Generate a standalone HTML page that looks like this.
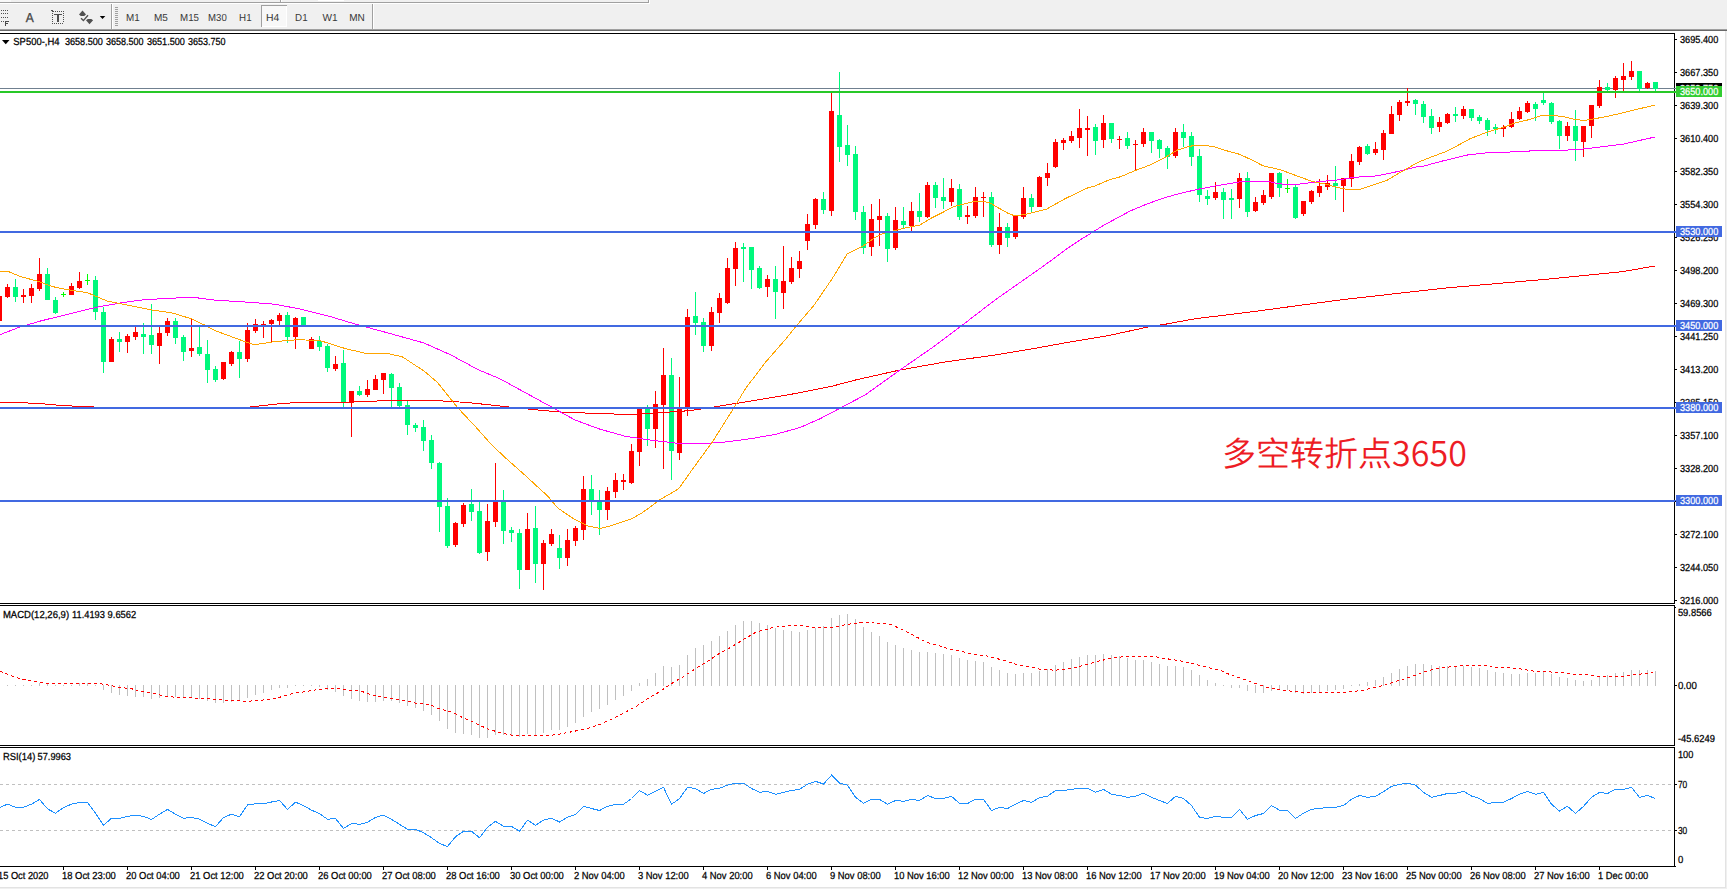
<!DOCTYPE html>
<html lang="zh"><head><meta charset="utf-8"><title>SP500 H4</title>
<style>html,body{margin:0;padding:0;background:#fff;overflow:hidden}svg{display:block}text{white-space:pre}</style></head>
<body>
<svg width="1727" height="889" viewBox="0 0 1727 889" font-family="'Liberation Sans', sans-serif" text-rendering="geometricPrecision">
<rect x="0" y="0" width="1727" height="889" fill="#fff"/>
<g id="toolbar" shape-rendering="crispEdges">
<rect x="0" y="0" width="1727" height="29" fill="#f0f0f0"/>
<rect x="0" y="0" width="11" height="2" fill="#f8f8f8"/>
<rect x="0" y="2" width="648" height="1" fill="#a0a0a0"/>
<rect x="0" y="3" width="649" height="1" fill="#ffffff"/>
<rect x="648" y="0" width="1" height="3" fill="#a0a0a0"/>
<rect x="649" y="0" width="1" height="4" fill="#ffffff"/>
<rect x="280" y="0" width="1" height="2" fill="#a0a0a0"/>
<rect x="281" y="0" width="1" height="2" fill="#ffffff"/>
<rect x="318" y="0" width="26" height="1" fill="#ffffff"/>
<rect x="0" y="29" width="1727" height="1" fill="#a0a0a0"/>
<rect x="0" y="30" width="1727" height="1" fill="#696969"/>
<rect x="111" y="4" width="1" height="25" fill="#a0a0a0"/>
<rect x="112" y="4" width="1" height="25" fill="#ffffff"/>
<rect x="372" y="4" width="1" height="25" fill="#a0a0a0"/>
<rect x="373" y="4" width="1" height="25" fill="#ffffff"/>
<rect x="115" y="7" width="3" height="1" fill="#a0a0a0"/>
<rect x="115" y="9" width="3" height="1" fill="#a0a0a0"/>
<rect x="115" y="11" width="3" height="1" fill="#a0a0a0"/>
<rect x="115" y="13" width="3" height="1" fill="#a0a0a0"/>
<rect x="115" y="15" width="3" height="1" fill="#a0a0a0"/>
<rect x="115" y="17" width="3" height="1" fill="#a0a0a0"/>
<rect x="115" y="19" width="3" height="1" fill="#a0a0a0"/>
<rect x="115" y="21" width="3" height="1" fill="#a0a0a0"/>
<rect x="115" y="23" width="3" height="1" fill="#a0a0a0"/>
<rect x="115" y="25" width="3" height="1" fill="#a0a0a0"/>
<rect x="261" y="5" width="26" height="22" fill="#f8f8f8"/>
<rect x="261" y="5" width="26" height="1" fill="#a0a0a0"/>
<rect x="261" y="5" width="1" height="22" fill="#a0a0a0"/>
<rect x="262" y="26" width="25" height="1" fill="#ffffff"/>
<rect x="286" y="6" width="1" height="21" fill="#ffffff"/>
</g>
<g id="icons" fill="#505050">
<rect x="1" y="10" width="1" height="1" fill="#505050"/>
<rect x="3" y="10" width="1" height="1" fill="#505050"/>
<rect x="5" y="10" width="1" height="1" fill="#505050"/>
<rect x="7" y="10" width="1" height="1" fill="#505050"/>
<rect x="1" y="13" width="1" height="1" fill="#505050"/>
<rect x="3" y="13" width="1" height="1" fill="#505050"/>
<rect x="5" y="13" width="1" height="1" fill="#505050"/>
<rect x="7" y="13" width="1" height="1" fill="#505050"/>
<rect x="1" y="17" width="1" height="1" fill="#505050"/>
<rect x="3" y="17" width="1" height="1" fill="#505050"/>
<rect x="5" y="17" width="1" height="1" fill="#505050"/>
<rect x="7" y="17" width="1" height="1" fill="#505050"/>
<rect x="1" y="21" width="1" height="1" fill="#505050"/>
<rect x="3" y="21" width="1" height="1" fill="#505050"/>
<rect x="5" y="21" width="1" height="5" fill="#484848"/>
<rect x="6" y="21" width="3" height="1" fill="#484848"/>
<rect x="6" y="23" width="2" height="1" fill="#484848"/>
<text x="25.7" y="22.2" font-size="13" fill="#484848" stroke="#484848" stroke-width="0.35" textLength="8" lengthAdjust="spacingAndGlyphs">A</text>
<rect x="55" y="11" width="1" height="1" fill="#505050"/>
<rect x="57" y="11" width="1" height="1" fill="#505050"/>
<rect x="59" y="11" width="1" height="1" fill="#505050"/>
<rect x="61" y="11" width="1" height="1" fill="#505050"/>
<rect x="63" y="11" width="1" height="1" fill="#505050"/>
<rect x="52" y="23" width="1" height="1" fill="#505050"/>
<rect x="54" y="23" width="1" height="1" fill="#505050"/>
<rect x="56" y="23" width="1" height="1" fill="#505050"/>
<rect x="58" y="23" width="1" height="1" fill="#505050"/>
<rect x="60" y="23" width="1" height="1" fill="#505050"/>
<rect x="62" y="23" width="1" height="1" fill="#505050"/>
<rect x="52" y="13" width="1" height="1" fill="#505050"/>
<rect x="63" y="13" width="1" height="1" fill="#505050"/>
<rect x="52" y="15" width="1" height="1" fill="#505050"/>
<rect x="63" y="15" width="1" height="1" fill="#505050"/>
<rect x="52" y="17" width="1" height="1" fill="#505050"/>
<rect x="63" y="17" width="1" height="1" fill="#505050"/>
<rect x="52" y="19" width="1" height="1" fill="#505050"/>
<rect x="63" y="19" width="1" height="1" fill="#505050"/>
<rect x="52" y="21" width="1" height="1" fill="#505050"/>
<rect x="63" y="21" width="1" height="1" fill="#505050"/>
<rect x="51" y="10" width="2" height="1" fill="#505050"/>
<rect x="52" y="11" width="2" height="1" fill="#505050"/>
<rect x="54" y="14" width="8" height="1" fill="#505050"/>
<rect x="57" y="15" width="2" height="7" fill="#505050"/>
<path d="M82.5 10.6 L86 14.4 L84.2 16 L80.8 16 L79 14.4 Z M89.5 24.2 L93.1 20.3 L91.3 19 L87.8 19 L86 20.3 Z" fill="#505050"/>
<path d="M81 18.3 L83.4 20.6 L88 15.2" fill="none" stroke="#505050" stroke-width="1.4"/>
<path d="M99.8 16 L105.3 16 L102.55 19 Z" fill="#000"/>
</g>
<text x="126.00" y="21" font-size="10.2" fill="#383838" stroke="#383838" stroke-width="0" textLength="13.70" lengthAdjust="spacingAndGlyphs">M1</text>
<text x="154.00" y="21" font-size="10.2" fill="#383838" stroke="#383838" stroke-width="0" textLength="13.90" lengthAdjust="spacingAndGlyphs">M5</text>
<text x="180.10" y="21" font-size="10.2" fill="#383838" stroke="#383838" stroke-width="0" textLength="18.90" lengthAdjust="spacingAndGlyphs">M15</text>
<text x="208.10" y="21" font-size="10.2" fill="#383838" stroke="#383838" stroke-width="0" textLength="18.70" lengthAdjust="spacingAndGlyphs">M30</text>
<text x="239.10" y="21" font-size="10.2" fill="#383838" stroke="#383838" stroke-width="0" textLength="12.50" lengthAdjust="spacingAndGlyphs">H1</text>
<text x="266.10" y="21" font-size="10.2" fill="#383838" stroke="#383838" stroke-width="0" textLength="13.30" lengthAdjust="spacingAndGlyphs">H4</text>
<text x="295.10" y="21" font-size="10.2" fill="#383838" stroke="#383838" stroke-width="0" textLength="12.50" lengthAdjust="spacingAndGlyphs">D1</text>
<text x="322.50" y="21" font-size="10.2" fill="#383838" stroke="#383838" stroke-width="0" textLength="15.10" lengthAdjust="spacingAndGlyphs">W1</text>
<text x="349.20" y="21" font-size="10.2" fill="#383838" stroke="#383838" stroke-width="0" textLength="15.60" lengthAdjust="spacingAndGlyphs">MN</text>
<g id="frame" shape-rendering="crispEdges">
<rect x="0" y="33" width="1675" height="1" fill="#000"/>
<rect x="1674" y="33" width="1" height="571" fill="#000"/>
<rect x="0" y="603" width="1675" height="1" fill="#000"/>
<rect x="0" y="605" width="1675" height="1" fill="#000"/>
<rect x="1674" y="605" width="1" height="141" fill="#000"/>
<rect x="0" y="745" width="1675" height="1" fill="#000"/>
<rect x="0" y="747" width="1675" height="1" fill="#000"/>
<rect x="1674" y="747" width="1" height="120" fill="#000"/>
<rect x="0" y="866" width="1676" height="1" fill="#000"/>
<rect x="1725" y="31" width="1" height="857" fill="#e3e3e3"/>
<rect x="1726" y="31" width="1" height="858" fill="#f0f0f0"/>
<rect x="0" y="887" width="1726" height="1" fill="#e3e3e3"/>
<rect x="0" y="888" width="1727" height="1" fill="#f0f0f0"/>
</g>
<g id="candles" shape-rendering="crispEdges">
<rect x="0" y="88" width="1676" height="1" fill="#708090"/>
<rect x="-1" y="294" width="1" height="29" fill="#FF0000"/>
<rect x="-3" y="296" width="5" height="25" fill="#FF0000"/>
<rect x="7" y="284" width="1" height="14" fill="#FF0000"/>
<rect x="5" y="287" width="5" height="10" fill="#FF0000"/>
<rect x="15" y="279" width="1" height="23" fill="#00F87C"/>
<rect x="13" y="287" width="5" height="10" fill="#00F87C"/>
<rect x="23" y="289" width="1" height="14" fill="#FF0000"/>
<rect x="21" y="295" width="5" height="2" fill="#FF0000"/>
<rect x="31" y="284" width="1" height="19" fill="#FF0000"/>
<rect x="29" y="288" width="5" height="8" fill="#FF0000"/>
<rect x="39" y="258" width="1" height="33" fill="#FF0000"/>
<rect x="37" y="274" width="5" height="15" fill="#FF0000"/>
<rect x="47" y="268" width="1" height="32" fill="#00F87C"/>
<rect x="45" y="274" width="5" height="26" fill="#00F87C"/>
<rect x="55" y="297" width="1" height="17" fill="#00F87C"/>
<rect x="53" y="300" width="5" height="13" fill="#00F87C"/>
<rect x="63" y="292" width="1" height="5" fill="#00FF00"/>
<rect x="61" y="294" width="5" height="1" fill="#00FF00"/>
<rect x="71" y="283" width="1" height="12" fill="#FF0000"/>
<rect x="69" y="286" width="5" height="9" fill="#FF0000"/>
<rect x="79" y="272" width="1" height="17" fill="#FF0000"/>
<rect x="77" y="281" width="5" height="7" fill="#FF0000"/>
<rect x="87" y="274" width="1" height="11" fill="#00FF00"/>
<rect x="85" y="280" width="5" height="1" fill="#00FF00"/>
<rect x="95" y="276" width="1" height="44" fill="#00F87C"/>
<rect x="93" y="280" width="5" height="32" fill="#00F87C"/>
<rect x="103" y="307" width="1" height="66" fill="#00F87C"/>
<rect x="101" y="312" width="5" height="50" fill="#00F87C"/>
<rect x="111" y="337" width="1" height="25" fill="#FF0000"/>
<rect x="109" y="339" width="5" height="23" fill="#FF0000"/>
<rect x="119" y="332" width="1" height="20" fill="#00F87C"/>
<rect x="117" y="339" width="5" height="3" fill="#00F87C"/>
<rect x="127" y="334" width="1" height="19" fill="#FF0000"/>
<rect x="125" y="336" width="5" height="6" fill="#FF0000"/>
<rect x="135" y="327" width="1" height="13" fill="#FF0000"/>
<rect x="133" y="332" width="5" height="5" fill="#FF0000"/>
<rect x="143" y="323" width="1" height="31" fill="#00F87C"/>
<rect x="141" y="334" width="5" height="3" fill="#00F87C"/>
<rect x="151" y="304" width="1" height="50" fill="#00F87C"/>
<rect x="149" y="335" width="5" height="10" fill="#00F87C"/>
<rect x="159" y="327" width="1" height="37" fill="#FF0000"/>
<rect x="157" y="333" width="5" height="13" fill="#FF0000"/>
<rect x="167" y="318" width="1" height="18" fill="#FF0000"/>
<rect x="165" y="321" width="5" height="12" fill="#FF0000"/>
<rect x="175" y="318" width="1" height="26" fill="#00F87C"/>
<rect x="173" y="321" width="5" height="17" fill="#00F87C"/>
<rect x="183" y="335" width="1" height="26" fill="#00F87C"/>
<rect x="181" y="337" width="5" height="15" fill="#00F87C"/>
<rect x="191" y="318" width="1" height="39" fill="#FF0000"/>
<rect x="189" y="348" width="5" height="3" fill="#FF0000"/>
<rect x="199" y="327" width="1" height="29" fill="#00F87C"/>
<rect x="197" y="347" width="5" height="7" fill="#00F87C"/>
<rect x="207" y="340" width="1" height="43" fill="#00F87C"/>
<rect x="205" y="354" width="5" height="16" fill="#00F87C"/>
<rect x="215" y="366" width="1" height="16" fill="#00F87C"/>
<rect x="213" y="369" width="5" height="11" fill="#00F87C"/>
<rect x="223" y="362" width="1" height="18" fill="#FF0000"/>
<rect x="221" y="362" width="5" height="17" fill="#FF0000"/>
<rect x="231" y="351" width="1" height="15" fill="#FF0000"/>
<rect x="229" y="352" width="5" height="12" fill="#FF0000"/>
<rect x="239" y="341" width="1" height="37" fill="#00F87C"/>
<rect x="237" y="352" width="5" height="7" fill="#00F87C"/>
<rect x="247" y="323" width="1" height="39" fill="#FF0000"/>
<rect x="245" y="330" width="5" height="29" fill="#FF0000"/>
<rect x="255" y="319" width="1" height="14" fill="#FF0000"/>
<rect x="253" y="324" width="5" height="7" fill="#FF0000"/>
<rect x="263" y="321" width="1" height="17" fill="#FF0000"/>
<rect x="261" y="324" width="5" height="2" fill="#FF0000"/>
<rect x="271" y="319" width="1" height="23" fill="#FF0000"/>
<rect x="269" y="320" width="5" height="4" fill="#FF0000"/>
<rect x="279" y="313" width="1" height="12" fill="#FF0000"/>
<rect x="277" y="315" width="5" height="6" fill="#FF0000"/>
<rect x="287" y="312" width="1" height="31" fill="#00F87C"/>
<rect x="285" y="315" width="5" height="22" fill="#00F87C"/>
<rect x="295" y="317" width="1" height="32" fill="#FF0000"/>
<rect x="293" y="318" width="5" height="19" fill="#FF0000"/>
<rect x="303" y="317" width="1" height="8" fill="#00F87C"/>
<rect x="301" y="317" width="5" height="8" fill="#00F87C"/>
<rect x="311" y="337" width="1" height="12" fill="#FF0000"/>
<rect x="309" y="339" width="5" height="10" fill="#FF0000"/>
<rect x="319" y="336" width="1" height="15" fill="#00F87C"/>
<rect x="317" y="341" width="5" height="6" fill="#00F87C"/>
<rect x="327" y="344" width="1" height="28" fill="#00F87C"/>
<rect x="325" y="346" width="5" height="22" fill="#00F87C"/>
<rect x="335" y="356" width="1" height="15" fill="#FF0000"/>
<rect x="333" y="364" width="5" height="5" fill="#FF0000"/>
<rect x="343" y="350" width="1" height="57" fill="#00F87C"/>
<rect x="341" y="363" width="5" height="39" fill="#00F87C"/>
<rect x="351" y="391" width="1" height="46" fill="#FF0000"/>
<rect x="349" y="391" width="5" height="12" fill="#FF0000"/>
<rect x="359" y="386" width="1" height="10" fill="#00F87C"/>
<rect x="357" y="391" width="5" height="4" fill="#00F87C"/>
<rect x="367" y="380" width="1" height="17" fill="#FF0000"/>
<rect x="365" y="389" width="5" height="6" fill="#FF0000"/>
<rect x="375" y="375" width="1" height="15" fill="#FF0000"/>
<rect x="373" y="379" width="5" height="11" fill="#FF0000"/>
<rect x="383" y="373" width="1" height="21" fill="#FF0000"/>
<rect x="381" y="373" width="5" height="7" fill="#FF0000"/>
<rect x="391" y="373" width="1" height="34" fill="#00F87C"/>
<rect x="389" y="374" width="5" height="14" fill="#00F87C"/>
<rect x="399" y="383" width="1" height="24" fill="#00F87C"/>
<rect x="397" y="387" width="5" height="19" fill="#00F87C"/>
<rect x="407" y="401" width="1" height="34" fill="#00F87C"/>
<rect x="405" y="405" width="5" height="20" fill="#00F87C"/>
<rect x="415" y="423" width="1" height="9" fill="#00F87C"/>
<rect x="413" y="425" width="5" height="3" fill="#00F87C"/>
<rect x="423" y="420" width="1" height="31" fill="#00F87C"/>
<rect x="421" y="427" width="5" height="14" fill="#00F87C"/>
<rect x="431" y="435" width="1" height="34" fill="#00F87C"/>
<rect x="429" y="440" width="5" height="23" fill="#00F87C"/>
<rect x="439" y="462" width="1" height="70" fill="#00F87C"/>
<rect x="437" y="463" width="5" height="44" fill="#00F87C"/>
<rect x="447" y="498" width="1" height="50" fill="#00F87C"/>
<rect x="445" y="506" width="5" height="40" fill="#00F87C"/>
<rect x="455" y="522" width="1" height="25" fill="#FF0000"/>
<rect x="453" y="523" width="5" height="22" fill="#FF0000"/>
<rect x="463" y="503" width="1" height="24" fill="#FF0000"/>
<rect x="461" y="505" width="5" height="19" fill="#FF0000"/>
<rect x="471" y="489" width="1" height="32" fill="#00F87C"/>
<rect x="469" y="504" width="5" height="8" fill="#00F87C"/>
<rect x="479" y="502" width="1" height="52" fill="#00F87C"/>
<rect x="477" y="511" width="5" height="42" fill="#00F87C"/>
<rect x="487" y="504" width="1" height="57" fill="#FF0000"/>
<rect x="485" y="521" width="5" height="31" fill="#FF0000"/>
<rect x="495" y="463" width="1" height="64" fill="#FF0000"/>
<rect x="493" y="502" width="5" height="20" fill="#FF0000"/>
<rect x="503" y="490" width="1" height="54" fill="#00F87C"/>
<rect x="501" y="502" width="5" height="29" fill="#00F87C"/>
<rect x="511" y="527" width="1" height="15" fill="#00F87C"/>
<rect x="509" y="530" width="5" height="3" fill="#00F87C"/>
<rect x="519" y="529" width="1" height="60" fill="#00F87C"/>
<rect x="517" y="533" width="5" height="37" fill="#00F87C"/>
<rect x="527" y="513" width="1" height="57" fill="#FF0000"/>
<rect x="525" y="529" width="5" height="41" fill="#FF0000"/>
<rect x="535" y="506" width="1" height="77" fill="#00F87C"/>
<rect x="533" y="528" width="5" height="36" fill="#00F87C"/>
<rect x="543" y="540" width="1" height="50" fill="#FF0000"/>
<rect x="541" y="543" width="5" height="21" fill="#FF0000"/>
<rect x="551" y="529" width="1" height="17" fill="#FF0000"/>
<rect x="549" y="534" width="5" height="10" fill="#FF0000"/>
<rect x="559" y="535" width="1" height="34" fill="#00F87C"/>
<rect x="557" y="548" width="5" height="10" fill="#00F87C"/>
<rect x="567" y="529" width="1" height="37" fill="#FF0000"/>
<rect x="565" y="540" width="5" height="18" fill="#FF0000"/>
<rect x="575" y="526" width="1" height="20" fill="#FF0000"/>
<rect x="573" y="528" width="5" height="13" fill="#FF0000"/>
<rect x="583" y="476" width="1" height="64" fill="#FF0000"/>
<rect x="581" y="489" width="5" height="41" fill="#FF0000"/>
<rect x="591" y="475" width="1" height="40" fill="#00F87C"/>
<rect x="589" y="489" width="5" height="11" fill="#00F87C"/>
<rect x="599" y="490" width="1" height="45" fill="#00F87C"/>
<rect x="597" y="500" width="5" height="10" fill="#00F87C"/>
<rect x="607" y="487" width="1" height="33" fill="#FF0000"/>
<rect x="605" y="491" width="5" height="19" fill="#FF0000"/>
<rect x="615" y="473" width="1" height="25" fill="#FF0000"/>
<rect x="613" y="480" width="5" height="12" fill="#FF0000"/>
<rect x="623" y="474" width="1" height="16" fill="#FF0000"/>
<rect x="621" y="480" width="5" height="2" fill="#FF0000"/>
<rect x="631" y="444" width="1" height="40" fill="#FF0000"/>
<rect x="629" y="451" width="5" height="32" fill="#FF0000"/>
<rect x="639" y="408" width="1" height="58" fill="#FF0000"/>
<rect x="637" y="408" width="5" height="44" fill="#FF0000"/>
<rect x="647" y="405" width="1" height="41" fill="#00F87C"/>
<rect x="645" y="408" width="5" height="21" fill="#00F87C"/>
<rect x="655" y="391" width="1" height="57" fill="#FF0000"/>
<rect x="653" y="404" width="5" height="25" fill="#FF0000"/>
<rect x="663" y="348" width="1" height="121" fill="#FF0000"/>
<rect x="661" y="375" width="5" height="30" fill="#FF0000"/>
<rect x="671" y="358" width="1" height="122" fill="#00F87C"/>
<rect x="669" y="375" width="5" height="76" fill="#00F87C"/>
<rect x="679" y="377" width="1" height="83" fill="#FF0000"/>
<rect x="677" y="409" width="5" height="44" fill="#FF0000"/>
<rect x="687" y="309" width="1" height="107" fill="#FF0000"/>
<rect x="685" y="317" width="5" height="90" fill="#FF0000"/>
<rect x="695" y="292" width="1" height="43" fill="#00F87C"/>
<rect x="693" y="316" width="5" height="7" fill="#00F87C"/>
<rect x="703" y="318" width="1" height="34" fill="#00F87C"/>
<rect x="701" y="322" width="5" height="24" fill="#00F87C"/>
<rect x="711" y="307" width="1" height="44" fill="#FF0000"/>
<rect x="709" y="312" width="5" height="34" fill="#FF0000"/>
<rect x="719" y="293" width="1" height="30" fill="#FF0000"/>
<rect x="717" y="298" width="5" height="15" fill="#FF0000"/>
<rect x="727" y="258" width="1" height="46" fill="#FF0000"/>
<rect x="725" y="268" width="5" height="35" fill="#FF0000"/>
<rect x="735" y="242" width="1" height="44" fill="#FF0000"/>
<rect x="733" y="248" width="5" height="21" fill="#FF0000"/>
<rect x="743" y="243" width="1" height="39" fill="#00F87C"/>
<rect x="741" y="247" width="5" height="2" fill="#00F87C"/>
<rect x="751" y="247" width="1" height="42" fill="#00F87C"/>
<rect x="749" y="247" width="5" height="23" fill="#00F87C"/>
<rect x="759" y="266" width="1" height="23" fill="#00F87C"/>
<rect x="757" y="268" width="5" height="20" fill="#00F87C"/>
<rect x="767" y="275" width="1" height="22" fill="#FF0000"/>
<rect x="765" y="279" width="5" height="8" fill="#FF0000"/>
<rect x="775" y="266" width="1" height="53" fill="#00F87C"/>
<rect x="773" y="279" width="5" height="13" fill="#00F87C"/>
<rect x="783" y="246" width="1" height="63" fill="#FF0000"/>
<rect x="781" y="281" width="5" height="12" fill="#FF0000"/>
<rect x="791" y="257" width="1" height="27" fill="#FF0000"/>
<rect x="789" y="268" width="5" height="14" fill="#FF0000"/>
<rect x="799" y="251" width="1" height="27" fill="#FF0000"/>
<rect x="797" y="261" width="5" height="8" fill="#FF0000"/>
<rect x="807" y="214" width="1" height="36" fill="#FF0000"/>
<rect x="805" y="224" width="5" height="17" fill="#FF0000"/>
<rect x="815" y="198" width="1" height="31" fill="#FF0000"/>
<rect x="813" y="199" width="5" height="26" fill="#FF0000"/>
<rect x="823" y="192" width="1" height="22" fill="#00F87C"/>
<rect x="821" y="199" width="5" height="11" fill="#00F87C"/>
<rect x="831" y="93" width="1" height="123" fill="#FF0000"/>
<rect x="829" y="111" width="5" height="100" fill="#FF0000"/>
<rect x="839" y="72" width="1" height="90" fill="#00F87C"/>
<rect x="837" y="115" width="5" height="32" fill="#00F87C"/>
<rect x="847" y="125" width="1" height="41" fill="#00F87C"/>
<rect x="845" y="145" width="5" height="10" fill="#00F87C"/>
<rect x="855" y="146" width="1" height="74" fill="#00F87C"/>
<rect x="853" y="154" width="5" height="58" fill="#00F87C"/>
<rect x="863" y="206" width="1" height="48" fill="#00F87C"/>
<rect x="861" y="212" width="5" height="36" fill="#00F87C"/>
<rect x="871" y="204" width="1" height="52" fill="#FF0000"/>
<rect x="869" y="219" width="5" height="28" fill="#FF0000"/>
<rect x="879" y="199" width="1" height="47" fill="#FF0000"/>
<rect x="877" y="216" width="5" height="4" fill="#FF0000"/>
<rect x="887" y="213" width="1" height="49" fill="#00F87C"/>
<rect x="885" y="216" width="5" height="33" fill="#00F87C"/>
<rect x="895" y="207" width="1" height="43" fill="#FF0000"/>
<rect x="893" y="220" width="5" height="28" fill="#FF0000"/>
<rect x="903" y="207" width="1" height="22" fill="#00F87C"/>
<rect x="901" y="221" width="5" height="4" fill="#00F87C"/>
<rect x="911" y="202" width="1" height="29" fill="#FF0000"/>
<rect x="909" y="211" width="5" height="15" fill="#FF0000"/>
<rect x="919" y="193" width="1" height="29" fill="#00F87C"/>
<rect x="917" y="211" width="5" height="6" fill="#00F87C"/>
<rect x="927" y="182" width="1" height="36" fill="#FF0000"/>
<rect x="925" y="185" width="5" height="32" fill="#FF0000"/>
<rect x="935" y="182" width="1" height="26" fill="#00F87C"/>
<rect x="933" y="185" width="5" height="13" fill="#00F87C"/>
<rect x="943" y="178" width="1" height="31" fill="#00F87C"/>
<rect x="941" y="197" width="5" height="4" fill="#00F87C"/>
<rect x="951" y="179" width="1" height="27" fill="#FF0000"/>
<rect x="949" y="188" width="5" height="14" fill="#FF0000"/>
<rect x="959" y="184" width="1" height="36" fill="#00F87C"/>
<rect x="957" y="189" width="5" height="28" fill="#00F87C"/>
<rect x="967" y="206" width="1" height="18" fill="#FF0000"/>
<rect x="965" y="215" width="5" height="2" fill="#FF0000"/>
<rect x="975" y="187" width="1" height="31" fill="#FF0000"/>
<rect x="973" y="197" width="5" height="19" fill="#FF0000"/>
<rect x="983" y="192" width="1" height="25" fill="#FF0000"/>
<rect x="981" y="197" width="5" height="1" fill="#FF0000"/>
<rect x="991" y="192" width="1" height="55" fill="#00F87C"/>
<rect x="989" y="197" width="5" height="48" fill="#00F87C"/>
<rect x="999" y="213" width="1" height="41" fill="#FF0000"/>
<rect x="997" y="227" width="5" height="18" fill="#FF0000"/>
<rect x="1007" y="223" width="1" height="24" fill="#00F87C"/>
<rect x="1005" y="227" width="5" height="11" fill="#00F87C"/>
<rect x="1015" y="216" width="1" height="23" fill="#FF0000"/>
<rect x="1013" y="216" width="5" height="21" fill="#FF0000"/>
<rect x="1023" y="187" width="1" height="32" fill="#FF0000"/>
<rect x="1021" y="198" width="5" height="19" fill="#FF0000"/>
<rect x="1031" y="194" width="1" height="19" fill="#00F87C"/>
<rect x="1029" y="198" width="5" height="9" fill="#00F87C"/>
<rect x="1039" y="176" width="1" height="31" fill="#FF0000"/>
<rect x="1037" y="177" width="5" height="30" fill="#FF0000"/>
<rect x="1047" y="163" width="1" height="23" fill="#FF0000"/>
<rect x="1045" y="173" width="5" height="5" fill="#FF0000"/>
<rect x="1055" y="139" width="1" height="29" fill="#FF0000"/>
<rect x="1053" y="142" width="5" height="25" fill="#FF0000"/>
<rect x="1063" y="138" width="1" height="12" fill="#FF0000"/>
<rect x="1061" y="140" width="5" height="3" fill="#FF0000"/>
<rect x="1071" y="131" width="1" height="12" fill="#FF0000"/>
<rect x="1069" y="136" width="5" height="5" fill="#FF0000"/>
<rect x="1079" y="109" width="1" height="39" fill="#FF0000"/>
<rect x="1077" y="128" width="5" height="10" fill="#FF0000"/>
<rect x="1087" y="116" width="1" height="40" fill="#FF0000"/>
<rect x="1085" y="128" width="5" height="2" fill="#FF0000"/>
<rect x="1095" y="124" width="1" height="31" fill="#00F87C"/>
<rect x="1093" y="127" width="5" height="14" fill="#00F87C"/>
<rect x="1103" y="115" width="1" height="33" fill="#FF0000"/>
<rect x="1101" y="123" width="5" height="17" fill="#FF0000"/>
<rect x="1111" y="123" width="1" height="20" fill="#00F87C"/>
<rect x="1109" y="123" width="5" height="16" fill="#00F87C"/>
<rect x="1119" y="136" width="1" height="13" fill="#FF0000"/>
<rect x="1117" y="139" width="5" height="1" fill="#FF0000"/>
<rect x="1127" y="132" width="1" height="17" fill="#00F87C"/>
<rect x="1125" y="138" width="5" height="8" fill="#00F87C"/>
<rect x="1135" y="140" width="1" height="30" fill="#FF0000"/>
<rect x="1133" y="144" width="5" height="1" fill="#FF0000"/>
<rect x="1143" y="128" width="1" height="19" fill="#FF0000"/>
<rect x="1141" y="132" width="5" height="12" fill="#FF0000"/>
<rect x="1151" y="132" width="1" height="21" fill="#00F87C"/>
<rect x="1149" y="132" width="5" height="9" fill="#00F87C"/>
<rect x="1159" y="139" width="1" height="19" fill="#00F87C"/>
<rect x="1157" y="140" width="5" height="9" fill="#00F87C"/>
<rect x="1167" y="146" width="1" height="23" fill="#00F87C"/>
<rect x="1165" y="148" width="5" height="9" fill="#00F87C"/>
<rect x="1175" y="128" width="1" height="30" fill="#FF0000"/>
<rect x="1173" y="132" width="5" height="24" fill="#FF0000"/>
<rect x="1183" y="124" width="1" height="23" fill="#00F87C"/>
<rect x="1181" y="132" width="5" height="6" fill="#00F87C"/>
<rect x="1191" y="132" width="1" height="34" fill="#00F87C"/>
<rect x="1189" y="136" width="5" height="21" fill="#00F87C"/>
<rect x="1199" y="149" width="1" height="53" fill="#00F87C"/>
<rect x="1197" y="156" width="5" height="39" fill="#00F87C"/>
<rect x="1207" y="190" width="1" height="15" fill="#00F87C"/>
<rect x="1205" y="196" width="5" height="3" fill="#00F87C"/>
<rect x="1215" y="182" width="1" height="18" fill="#FF0000"/>
<rect x="1213" y="192" width="5" height="6" fill="#FF0000"/>
<rect x="1223" y="188" width="1" height="31" fill="#00F87C"/>
<rect x="1221" y="192" width="5" height="8" fill="#00F87C"/>
<rect x="1231" y="189" width="1" height="30" fill="#00F87C"/>
<rect x="1229" y="198" width="5" height="2" fill="#00F87C"/>
<rect x="1239" y="173" width="1" height="35" fill="#FF0000"/>
<rect x="1237" y="178" width="5" height="21" fill="#FF0000"/>
<rect x="1247" y="172" width="1" height="45" fill="#00F87C"/>
<rect x="1245" y="178" width="5" height="34" fill="#00F87C"/>
<rect x="1255" y="197" width="1" height="15" fill="#FF0000"/>
<rect x="1253" y="202" width="5" height="9" fill="#FF0000"/>
<rect x="1263" y="190" width="1" height="15" fill="#FF0000"/>
<rect x="1261" y="195" width="5" height="8" fill="#FF0000"/>
<rect x="1271" y="173" width="1" height="26" fill="#FF0000"/>
<rect x="1269" y="173" width="5" height="24" fill="#FF0000"/>
<rect x="1279" y="172" width="1" height="25" fill="#00F87C"/>
<rect x="1277" y="173" width="5" height="15" fill="#00F87C"/>
<rect x="1287" y="179" width="1" height="14" fill="#00FF00"/>
<rect x="1285" y="188" width="5" height="1" fill="#00FF00"/>
<rect x="1295" y="185" width="1" height="34" fill="#00F87C"/>
<rect x="1293" y="187" width="5" height="31" fill="#00F87C"/>
<rect x="1303" y="201" width="1" height="15" fill="#FF0000"/>
<rect x="1301" y="201" width="5" height="13" fill="#FF0000"/>
<rect x="1311" y="190" width="1" height="14" fill="#FF0000"/>
<rect x="1309" y="191" width="5" height="11" fill="#FF0000"/>
<rect x="1319" y="179" width="1" height="18" fill="#FF0000"/>
<rect x="1317" y="186" width="5" height="7" fill="#FF0000"/>
<rect x="1327" y="175" width="1" height="15" fill="#FF0000"/>
<rect x="1325" y="183" width="5" height="4" fill="#FF0000"/>
<rect x="1335" y="166" width="1" height="34" fill="#00F87C"/>
<rect x="1333" y="183" width="5" height="3" fill="#00F87C"/>
<rect x="1343" y="178" width="1" height="34" fill="#FF0000"/>
<rect x="1341" y="178" width="5" height="8" fill="#FF0000"/>
<rect x="1351" y="154" width="1" height="33" fill="#FF0000"/>
<rect x="1349" y="161" width="5" height="18" fill="#FF0000"/>
<rect x="1359" y="146" width="1" height="19" fill="#FF0000"/>
<rect x="1357" y="147" width="5" height="15" fill="#FF0000"/>
<rect x="1367" y="144" width="1" height="11" fill="#00F87C"/>
<rect x="1365" y="146" width="5" height="8" fill="#00F87C"/>
<rect x="1375" y="142" width="1" height="13" fill="#FF0000"/>
<rect x="1373" y="149" width="5" height="4" fill="#FF0000"/>
<rect x="1383" y="130" width="1" height="30" fill="#FF0000"/>
<rect x="1381" y="133" width="5" height="17" fill="#FF0000"/>
<rect x="1391" y="106" width="1" height="28" fill="#FF0000"/>
<rect x="1389" y="114" width="5" height="20" fill="#FF0000"/>
<rect x="1399" y="100" width="1" height="21" fill="#FF0000"/>
<rect x="1397" y="102" width="5" height="13" fill="#FF0000"/>
<rect x="1407" y="88" width="1" height="18" fill="#FF0000"/>
<rect x="1405" y="101" width="5" height="2" fill="#FF0000"/>
<rect x="1415" y="99" width="1" height="16" fill="#00F87C"/>
<rect x="1413" y="100" width="5" height="4" fill="#00F87C"/>
<rect x="1423" y="101" width="1" height="22" fill="#00F87C"/>
<rect x="1421" y="104" width="5" height="13" fill="#00F87C"/>
<rect x="1431" y="109" width="1" height="25" fill="#00F87C"/>
<rect x="1429" y="116" width="5" height="12" fill="#00F87C"/>
<rect x="1439" y="117" width="1" height="15" fill="#FF0000"/>
<rect x="1437" y="122" width="5" height="5" fill="#FF0000"/>
<rect x="1447" y="113" width="1" height="11" fill="#FF0000"/>
<rect x="1445" y="114" width="5" height="9" fill="#FF0000"/>
<rect x="1455" y="107" width="1" height="15" fill="#00F87C"/>
<rect x="1453" y="114" width="5" height="2" fill="#00F87C"/>
<rect x="1463" y="106" width="1" height="13" fill="#FF0000"/>
<rect x="1461" y="109" width="5" height="7" fill="#FF0000"/>
<rect x="1471" y="109" width="1" height="12" fill="#00F87C"/>
<rect x="1469" y="109" width="5" height="9" fill="#00F87C"/>
<rect x="1479" y="115" width="1" height="9" fill="#00F87C"/>
<rect x="1477" y="117" width="5" height="4" fill="#00F87C"/>
<rect x="1487" y="118" width="1" height="18" fill="#00F87C"/>
<rect x="1485" y="120" width="5" height="10" fill="#00F87C"/>
<rect x="1495" y="124" width="1" height="10" fill="#00F87C"/>
<rect x="1493" y="127" width="5" height="2" fill="#00F87C"/>
<rect x="1503" y="125" width="1" height="12" fill="#FF0000"/>
<rect x="1501" y="127" width="5" height="2" fill="#FF0000"/>
<rect x="1511" y="112" width="1" height="16" fill="#FF0000"/>
<rect x="1509" y="119" width="5" height="8" fill="#FF0000"/>
<rect x="1519" y="107" width="1" height="13" fill="#FF0000"/>
<rect x="1517" y="111" width="5" height="8" fill="#FF0000"/>
<rect x="1527" y="101" width="1" height="12" fill="#FF0000"/>
<rect x="1525" y="103" width="5" height="9" fill="#FF0000"/>
<rect x="1535" y="102" width="1" height="19" fill="#00F87C"/>
<rect x="1533" y="104" width="5" height="5" fill="#00F87C"/>
<rect x="1543" y="93" width="1" height="12" fill="#00F87C"/>
<rect x="1541" y="100" width="5" height="3" fill="#00F87C"/>
<rect x="1551" y="102" width="1" height="22" fill="#00F87C"/>
<rect x="1549" y="103" width="5" height="19" fill="#00F87C"/>
<rect x="1559" y="120" width="1" height="29" fill="#00F87C"/>
<rect x="1557" y="121" width="5" height="15" fill="#00F87C"/>
<rect x="1567" y="122" width="1" height="19" fill="#FF0000"/>
<rect x="1565" y="126" width="5" height="10" fill="#FF0000"/>
<rect x="1575" y="110" width="1" height="51" fill="#00F87C"/>
<rect x="1573" y="126" width="5" height="15" fill="#00F87C"/>
<rect x="1583" y="126" width="1" height="31" fill="#FF0000"/>
<rect x="1581" y="126" width="5" height="16" fill="#FF0000"/>
<rect x="1591" y="105" width="1" height="33" fill="#FF0000"/>
<rect x="1589" y="105" width="5" height="21" fill="#FF0000"/>
<rect x="1599" y="80" width="1" height="28" fill="#FF0000"/>
<rect x="1597" y="87" width="5" height="19" fill="#FF0000"/>
<rect x="1607" y="83" width="1" height="8" fill="#00F87C"/>
<rect x="1605" y="87" width="5" height="3" fill="#00F87C"/>
<rect x="1615" y="76" width="1" height="22" fill="#FF0000"/>
<rect x="1613" y="78" width="5" height="12" fill="#FF0000"/>
<rect x="1623" y="63" width="1" height="28" fill="#FF0000"/>
<rect x="1621" y="76" width="5" height="4" fill="#FF0000"/>
<rect x="1631" y="61" width="1" height="19" fill="#FF0000"/>
<rect x="1629" y="71" width="5" height="6" fill="#FF0000"/>
<rect x="1639" y="71" width="1" height="20" fill="#00F87C"/>
<rect x="1637" y="71" width="5" height="18" fill="#00F87C"/>
<rect x="1647" y="82" width="1" height="7" fill="#FF0000"/>
<rect x="1645" y="83" width="5" height="5" fill="#FF0000"/>
<rect x="1655" y="82" width="1" height="9" fill="#00F87C"/>
<rect x="1653" y="82" width="5" height="7" fill="#00F87C"/>
</g>
<g id="mas" shape-rendering="crispEdges">
<polyline points="0.0,402.0 20.0,402.5 44.5,404.0 60.7,405.4 77.0,406.3 92.0,406.8 98.0,407.6 244.0,407.6 251.5,406.8 283.0,403.4 307.0,402.0 349.7,402.0 386.0,400.7 424.0,400.3 435.0,400.5 467.5,402.5 507.5,406.8 532.5,409.5 560.0,412.0 590.0,413.2 620.0,414.2 635.0,414.2 662.5,412.5 687.5,410.8 700.0,409.2 715.0,406.8 750.0,401.2 787.5,395.0 832.0,386.2 857.5,379.5 900.0,370.0 945.0,362.0 995.0,355.0 1032.5,348.8 1070.0,342.0 1107.5,335.8 1148.8,326.8 1163.8,324.5 1195.0,318.8 1251.8,311.8 1342.0,299.7 1443.8,288.2 1545.7,279.3 1622.0,271.7 1655.0,266.0" fill="none" stroke="#FF0000" stroke-width="1"/>
<polyline points="0.0,334.7 20.0,327.0 40.5,321.0 60.7,316.0 81.0,310.9 101.0,306.4 121.5,302.8 141.7,300.0 162.0,298.7 182.0,297.7 196.0,297.7 216.0,300.2 245.0,302.0 274.8,304.2 300.0,309.0 330.0,316.5 357.8,324.8 390.0,333.5 424.0,343.0 450.0,354.5 478.8,370.0 500.0,378.8 525.0,392.5 550.0,406.2 575.0,420.0 600.0,429.2 625.0,436.2 650.0,440.0 675.0,443.0 700.0,443.8 725.0,442.0 750.0,438.8 775.0,434.5 800.0,427.5 820.0,418.8 837.5,409.5 865.0,395.0 900.0,370.0 932.5,347.5 962.5,325.0 995.0,300.0 1020.0,282.5 1045.0,265.0 1066.0,249.4 1080.0,240.0 1105.0,224.5 1131.0,210.6 1146.0,204.4 1165.0,197.5 1184.0,192.5 1197.5,189.4 1215.0,186.0 1234.0,182.8 1246.0,181.0 1256.0,181.3 1267.5,181.3 1277.5,183.5 1287.5,184.6 1300.0,184.0 1319.0,181.6 1337.5,180.0 1350.0,178.0 1362.5,176.6 1375.0,176.0 1387.5,173.8 1400.0,171.0 1416.0,166.9 1424.0,166.0 1442.5,161.0 1467.5,155.0 1490.0,152.5 1515.0,151.9 1536.0,150.6 1561.0,150.4 1580.0,149.4 1596.0,147.5 1623.7,144.0 1655.0,137.0" fill="none" stroke="#FF00FF" stroke-width="1"/>
<polyline points="0.0,271.4 8.0,271.4 20.0,276.4 38.5,281.5 52.6,286.6 66.8,289.6 87.0,292.6 97.0,296.7 107.0,301.0 125.5,304.8 152.0,310.0 172.0,312.9 192.0,319.0 206.5,326.0 216.0,331.0 246.5,342.2 254.6,344.7 274.8,341.6 299.0,339.6 321.4,341.0 345.7,348.7 366.0,353.4 390.0,354.0 402.3,356.8 424.0,371.0 437.5,382.5 457.5,407.5 476.7,428.0 490.9,444.0 505.0,457.5 523.3,473.7 547.6,496.0 557.7,508.0 573.9,519.0 588.0,526.0 600.0,528.4 610.0,526.0 631.0,519.0 642.0,513.0 659.4,500.0 678.7,488.8 690.8,471.6 713.0,441.0 733.3,408.8 745.5,388.6 765.7,362.0 785.0,340.0 797.7,324.3 813.8,305.5 832.0,279.0 847.3,253.8 862.4,246.5 875.0,237.5 882.5,233.8 895.0,230.4 907.5,227.5 920.0,225.0 930.0,218.8 942.5,212.5 953.8,206.6 962.5,204.4 972.5,201.9 982.5,201.3 990.0,203.0 1000.0,208.8 1007.5,213.0 1015.0,216.0 1025.0,214.4 1035.0,211.9 1046.0,209.4 1056.0,203.8 1065.0,198.8 1086.0,188.4 1095.0,186.0 1108.8,180.0 1121.0,176.6 1135.0,170.6 1150.0,165.0 1165.0,157.5 1177.5,150.0 1187.5,146.9 1196.0,145.0 1202.5,145.0 1215.0,147.0 1227.5,151.0 1240.0,154.4 1256.0,162.0 1262.5,165.6 1281.0,170.0 1300.0,177.0 1312.5,181.5 1325.0,184.0 1337.5,187.5 1347.5,189.4 1360.0,189.4 1375.0,184.4 1387.5,180.0 1400.0,172.5 1405.0,170.0 1417.5,162.5 1430.0,157.5 1445.0,151.9 1457.5,145.6 1470.0,138.8 1486.0,132.5 1502.5,127.5 1515.0,123.0 1530.0,119.4 1541.0,115.6 1555.0,115.6 1565.0,116.9 1575.0,119.4 1584.0,120.6 1596.0,118.5 1611.0,115.6 1655.0,105.0" fill="none" stroke="#FFA500" stroke-width="1"/>
</g>
<g id="hlines" shape-rendering="crispEdges">
<rect x="0" y="91" width="1676" height="2" fill="#28C828"/>
<rect x="0" y="231" width="1676" height="2" fill="#4169E1"/>
<rect x="0" y="325" width="1676" height="2" fill="#4169E1"/>
<rect x="0" y="407" width="1676" height="2" fill="#4169E1"/>
<rect x="0" y="500" width="1676" height="2" fill="#4169E1"/>
</g>
<g id="paxis">
<rect x="1675" y="39" width="2" height="1" fill="#000" shape-rendering="crispEdges"/>
<text x="1680.00" y="43" font-size="10.2" fill="#000" stroke="#000" stroke-width="0.25" textLength="38.30" lengthAdjust="spacingAndGlyphs">3695.400</text>
<rect x="1675" y="72" width="2" height="1" fill="#000" shape-rendering="crispEdges"/>
<text x="1680.00" y="76" font-size="10.2" fill="#000" stroke="#000" stroke-width="0.25" textLength="38.30" lengthAdjust="spacingAndGlyphs">3667.350</text>
<rect x="1675" y="105" width="2" height="1" fill="#000" shape-rendering="crispEdges"/>
<text x="1680.00" y="109" font-size="10.2" fill="#000" stroke="#000" stroke-width="0.25" textLength="38.30" lengthAdjust="spacingAndGlyphs">3639.300</text>
<rect x="1675" y="138" width="2" height="1" fill="#000" shape-rendering="crispEdges"/>
<text x="1680.00" y="142" font-size="10.2" fill="#000" stroke="#000" stroke-width="0.25" textLength="38.30" lengthAdjust="spacingAndGlyphs">3610.400</text>
<rect x="1675" y="171" width="2" height="1" fill="#000" shape-rendering="crispEdges"/>
<text x="1680.00" y="175" font-size="10.2" fill="#000" stroke="#000" stroke-width="0.25" textLength="38.30" lengthAdjust="spacingAndGlyphs">3582.350</text>
<rect x="1675" y="204" width="2" height="1" fill="#000" shape-rendering="crispEdges"/>
<text x="1680.00" y="208" font-size="10.2" fill="#000" stroke="#000" stroke-width="0.25" textLength="38.30" lengthAdjust="spacingAndGlyphs">3554.300</text>
<rect x="1675" y="237" width="2" height="1" fill="#000" shape-rendering="crispEdges"/>
<text x="1680.00" y="241" font-size="10.2" fill="#000" stroke="#000" stroke-width="0.25" textLength="38.30" lengthAdjust="spacingAndGlyphs">3526.250</text>
<rect x="1675" y="270" width="2" height="1" fill="#000" shape-rendering="crispEdges"/>
<text x="1680.00" y="274" font-size="10.2" fill="#000" stroke="#000" stroke-width="0.25" textLength="38.30" lengthAdjust="spacingAndGlyphs">3498.200</text>
<rect x="1675" y="303" width="2" height="1" fill="#000" shape-rendering="crispEdges"/>
<text x="1680.00" y="307" font-size="10.2" fill="#000" stroke="#000" stroke-width="0.25" textLength="38.30" lengthAdjust="spacingAndGlyphs">3469.300</text>
<rect x="1675" y="336" width="2" height="1" fill="#000" shape-rendering="crispEdges"/>
<text x="1680.00" y="340" font-size="10.2" fill="#000" stroke="#000" stroke-width="0.25" textLength="38.30" lengthAdjust="spacingAndGlyphs">3441.250</text>
<rect x="1675" y="369" width="2" height="1" fill="#000" shape-rendering="crispEdges"/>
<text x="1680.00" y="373" font-size="10.2" fill="#000" stroke="#000" stroke-width="0.25" textLength="38.30" lengthAdjust="spacingAndGlyphs">3413.200</text>
<rect x="1675" y="402" width="2" height="1" fill="#000" shape-rendering="crispEdges"/>
<text x="1680.00" y="406" font-size="10.2" fill="#000" stroke="#000" stroke-width="0.25" textLength="38.30" lengthAdjust="spacingAndGlyphs">3385.150</text>
<rect x="1675" y="435" width="2" height="1" fill="#000" shape-rendering="crispEdges"/>
<text x="1680.00" y="439" font-size="10.2" fill="#000" stroke="#000" stroke-width="0.25" textLength="38.30" lengthAdjust="spacingAndGlyphs">3357.100</text>
<rect x="1675" y="468" width="2" height="1" fill="#000" shape-rendering="crispEdges"/>
<text x="1680.00" y="472" font-size="10.2" fill="#000" stroke="#000" stroke-width="0.25" textLength="38.30" lengthAdjust="spacingAndGlyphs">3328.200</text>
<rect x="1675" y="501" width="2" height="1" fill="#000" shape-rendering="crispEdges"/>
<text x="1680.00" y="505" font-size="10.2" fill="#000" stroke="#000" stroke-width="0.25" textLength="38.30" lengthAdjust="spacingAndGlyphs">3300.150</text>
<rect x="1675" y="534" width="2" height="1" fill="#000" shape-rendering="crispEdges"/>
<text x="1680.00" y="538" font-size="10.2" fill="#000" stroke="#000" stroke-width="0.25" textLength="38.30" lengthAdjust="spacingAndGlyphs">3272.100</text>
<rect x="1675" y="567" width="2" height="1" fill="#000" shape-rendering="crispEdges"/>
<text x="1680.00" y="571" font-size="10.2" fill="#000" stroke="#000" stroke-width="0.25" textLength="38.30" lengthAdjust="spacingAndGlyphs">3244.050</text>
<rect x="1675" y="600" width="2" height="1" fill="#000" shape-rendering="crispEdges"/>
<text x="1680.00" y="604" font-size="10.2" fill="#000" stroke="#000" stroke-width="0.25" textLength="38.30" lengthAdjust="spacingAndGlyphs">3216.000</text>
<rect x="1676" y="83" width="46" height="11" fill="#000"/>
<text x="1680.00" y="92" font-size="10.2" fill="#fff" stroke="#fff" stroke-width="0.25" textLength="38.30" lengthAdjust="spacingAndGlyphs">3653.750</text>
<rect x="1676" y="86" width="46" height="11" fill="#32CD32"/>
<text x="1680.00" y="95" font-size="10.2" fill="#fff" stroke="#fff" stroke-width="0.25" textLength="38.30" lengthAdjust="spacingAndGlyphs">3650.000</text>
<rect x="1676" y="226" width="46" height="11" fill="#4169E1"/>
<text x="1680.00" y="235" font-size="10.2" fill="#fff" stroke="#fff" stroke-width="0.25" textLength="38.30" lengthAdjust="spacingAndGlyphs">3530.000</text>
<rect x="1676" y="320" width="46" height="11" fill="#4169E1"/>
<text x="1680.00" y="329" font-size="10.2" fill="#fff" stroke="#fff" stroke-width="0.25" textLength="38.30" lengthAdjust="spacingAndGlyphs">3450.000</text>
<rect x="1676" y="402" width="46" height="11" fill="#4169E1"/>
<text x="1680.00" y="411" font-size="10.2" fill="#fff" stroke="#fff" stroke-width="0.25" textLength="38.30" lengthAdjust="spacingAndGlyphs">3380.000</text>
<rect x="1676" y="495" width="46" height="11" fill="#4169E1"/>
<text x="1680.00" y="504" font-size="10.2" fill="#fff" stroke="#fff" stroke-width="0.25" textLength="38.30" lengthAdjust="spacingAndGlyphs">3300.000</text>
</g>
<path d="M2 40 L9.5 40 L5.75 44.2 Z" fill="#000"/>
<text x="13.30" y="45" font-size="10.2" fill="#000" stroke="#000" stroke-width="0.25" textLength="46.20" lengthAdjust="spacingAndGlyphs">SP500-,H4</text>
<text x="64.90" y="45" font-size="10.2" fill="#000" stroke="#000" stroke-width="0.25" textLength="38.00" lengthAdjust="spacingAndGlyphs">3658.500</text>
<text x="105.90" y="45" font-size="10.2" fill="#000" stroke="#000" stroke-width="0.25" textLength="37.50" lengthAdjust="spacingAndGlyphs">3658.500</text>
<text x="146.90" y="45" font-size="10.2" fill="#000" stroke="#000" stroke-width="0.25" textLength="38.00" lengthAdjust="spacingAndGlyphs">3651.500</text>
<text x="187.90" y="45" font-size="10.2" fill="#000" stroke="#000" stroke-width="0.25" textLength="37.50" lengthAdjust="spacingAndGlyphs">3653.750</text>
<text x="1221.9" y="465.6" font-size="34" font-weight="350" fill="#ED1C24" font-family="'Noto Sans CJK SC', 'Liberation Sans', sans-serif" textLength="245" lengthAdjust="spacing">多空转折点3650</text>
<g id="macd" shape-rendering="crispEdges">
<rect x="7" y="685" width="1" height="1" fill="#C0C0C0"/>
<rect x="15" y="685" width="1" height="1" fill="#C0C0C0"/>
<rect x="23" y="685" width="1" height="1" fill="#C0C0C0"/>
<rect x="31" y="685" width="1" height="1" fill="#C0C0C0"/>
<rect x="39" y="683" width="1" height="3" fill="#C0C0C0"/>
<rect x="47" y="683" width="1" height="3" fill="#C0C0C0"/>
<rect x="55" y="685" width="1" height="1" fill="#C0C0C0"/>
<rect x="63" y="685" width="1" height="1" fill="#C0C0C0"/>
<rect x="71" y="685" width="1" height="1" fill="#C0C0C0"/>
<rect x="79" y="683" width="1" height="3" fill="#C0C0C0"/>
<rect x="87" y="683" width="1" height="3" fill="#C0C0C0"/>
<rect x="95" y="685" width="1" height="1" fill="#C0C0C0"/>
<rect x="103" y="685" width="1" height="5" fill="#C0C0C0"/>
<rect x="111" y="685" width="1" height="8" fill="#C0C0C0"/>
<rect x="119" y="685" width="1" height="10" fill="#C0C0C0"/>
<rect x="127" y="685" width="1" height="11" fill="#C0C0C0"/>
<rect x="135" y="685" width="1" height="12" fill="#C0C0C0"/>
<rect x="143" y="685" width="1" height="12" fill="#C0C0C0"/>
<rect x="151" y="685" width="1" height="14" fill="#C0C0C0"/>
<rect x="159" y="685" width="1" height="13" fill="#C0C0C0"/>
<rect x="167" y="685" width="1" height="12" fill="#C0C0C0"/>
<rect x="175" y="685" width="1" height="12" fill="#C0C0C0"/>
<rect x="183" y="685" width="1" height="13" fill="#C0C0C0"/>
<rect x="191" y="685" width="1" height="13" fill="#C0C0C0"/>
<rect x="199" y="685" width="1" height="14" fill="#C0C0C0"/>
<rect x="207" y="685" width="1" height="16" fill="#C0C0C0"/>
<rect x="215" y="685" width="1" height="18" fill="#C0C0C0"/>
<rect x="223" y="685" width="1" height="18" fill="#C0C0C0"/>
<rect x="231" y="685" width="1" height="17" fill="#C0C0C0"/>
<rect x="239" y="685" width="1" height="16" fill="#C0C0C0"/>
<rect x="247" y="685" width="1" height="13" fill="#C0C0C0"/>
<rect x="255" y="685" width="1" height="10" fill="#C0C0C0"/>
<rect x="263" y="685" width="1" height="8" fill="#C0C0C0"/>
<rect x="271" y="685" width="1" height="5" fill="#C0C0C0"/>
<rect x="279" y="685" width="1" height="3" fill="#C0C0C0"/>
<rect x="287" y="685" width="1" height="3" fill="#C0C0C0"/>
<rect x="295" y="685" width="1" height="1" fill="#C0C0C0"/>
<rect x="303" y="685" width="1" height="1" fill="#C0C0C0"/>
<rect x="311" y="685" width="1" height="1" fill="#C0C0C0"/>
<rect x="319" y="685" width="1" height="2" fill="#C0C0C0"/>
<rect x="327" y="685" width="1" height="5" fill="#C0C0C0"/>
<rect x="335" y="685" width="1" height="7" fill="#C0C0C0"/>
<rect x="343" y="685" width="1" height="11" fill="#C0C0C0"/>
<rect x="351" y="685" width="1" height="14" fill="#C0C0C0"/>
<rect x="359" y="685" width="1" height="16" fill="#C0C0C0"/>
<rect x="367" y="685" width="1" height="17" fill="#C0C0C0"/>
<rect x="375" y="685" width="1" height="17" fill="#C0C0C0"/>
<rect x="383" y="685" width="1" height="16" fill="#C0C0C0"/>
<rect x="391" y="685" width="1" height="16" fill="#C0C0C0"/>
<rect x="399" y="685" width="1" height="18" fill="#C0C0C0"/>
<rect x="407" y="685" width="1" height="21" fill="#C0C0C0"/>
<rect x="415" y="685" width="1" height="23" fill="#C0C0C0"/>
<rect x="423" y="685" width="1" height="26" fill="#C0C0C0"/>
<rect x="431" y="685" width="1" height="30" fill="#C0C0C0"/>
<rect x="439" y="685" width="1" height="36" fill="#C0C0C0"/>
<rect x="447" y="685" width="1" height="44" fill="#C0C0C0"/>
<rect x="455" y="685" width="1" height="48" fill="#C0C0C0"/>
<rect x="463" y="685" width="1" height="49" fill="#C0C0C0"/>
<rect x="471" y="685" width="1" height="50" fill="#C0C0C0"/>
<rect x="479" y="685" width="1" height="53" fill="#C0C0C0"/>
<rect x="487" y="685" width="1" height="53" fill="#C0C0C0"/>
<rect x="495" y="685" width="1" height="50" fill="#C0C0C0"/>
<rect x="503" y="685" width="1" height="50" fill="#C0C0C0"/>
<rect x="511" y="685" width="1" height="51" fill="#C0C0C0"/>
<rect x="519" y="685" width="1" height="52" fill="#C0C0C0"/>
<rect x="527" y="685" width="1" height="49" fill="#C0C0C0"/>
<rect x="535" y="685" width="1" height="51" fill="#C0C0C0"/>
<rect x="543" y="685" width="1" height="48" fill="#C0C0C0"/>
<rect x="551" y="685" width="1" height="45" fill="#C0C0C0"/>
<rect x="559" y="685" width="1" height="45" fill="#C0C0C0"/>
<rect x="567" y="685" width="1" height="42" fill="#C0C0C0"/>
<rect x="575" y="685" width="1" height="38" fill="#C0C0C0"/>
<rect x="583" y="685" width="1" height="32" fill="#C0C0C0"/>
<rect x="591" y="685" width="1" height="27" fill="#C0C0C0"/>
<rect x="599" y="685" width="1" height="24" fill="#C0C0C0"/>
<rect x="607" y="685" width="1" height="20" fill="#C0C0C0"/>
<rect x="615" y="685" width="1" height="15" fill="#C0C0C0"/>
<rect x="623" y="685" width="1" height="11" fill="#C0C0C0"/>
<rect x="631" y="685" width="1" height="6" fill="#C0C0C0"/>
<rect x="639" y="683" width="1" height="3" fill="#C0C0C0"/>
<rect x="647" y="679" width="1" height="7" fill="#C0C0C0"/>
<rect x="655" y="673" width="1" height="13" fill="#C0C0C0"/>
<rect x="663" y="666" width="1" height="20" fill="#C0C0C0"/>
<rect x="671" y="667" width="1" height="19" fill="#C0C0C0"/>
<rect x="679" y="665" width="1" height="21" fill="#C0C0C0"/>
<rect x="687" y="655" width="1" height="31" fill="#C0C0C0"/>
<rect x="695" y="648" width="1" height="38" fill="#C0C0C0"/>
<rect x="703" y="645" width="1" height="41" fill="#C0C0C0"/>
<rect x="711" y="641" width="1" height="45" fill="#C0C0C0"/>
<rect x="719" y="636" width="1" height="50" fill="#C0C0C0"/>
<rect x="727" y="631" width="1" height="55" fill="#C0C0C0"/>
<rect x="735" y="625" width="1" height="61" fill="#C0C0C0"/>
<rect x="743" y="621" width="1" height="65" fill="#C0C0C0"/>
<rect x="751" y="621" width="1" height="65" fill="#C0C0C0"/>
<rect x="759" y="623" width="1" height="63" fill="#C0C0C0"/>
<rect x="767" y="625" width="1" height="61" fill="#C0C0C0"/>
<rect x="775" y="628" width="1" height="58" fill="#C0C0C0"/>
<rect x="783" y="630" width="1" height="56" fill="#C0C0C0"/>
<rect x="791" y="631" width="1" height="55" fill="#C0C0C0"/>
<rect x="799" y="632" width="1" height="54" fill="#C0C0C0"/>
<rect x="807" y="630" width="1" height="56" fill="#C0C0C0"/>
<rect x="815" y="628" width="1" height="58" fill="#C0C0C0"/>
<rect x="823" y="626" width="1" height="60" fill="#C0C0C0"/>
<rect x="831" y="618" width="1" height="68" fill="#C0C0C0"/>
<rect x="839" y="615" width="1" height="71" fill="#C0C0C0"/>
<rect x="847" y="614" width="1" height="72" fill="#C0C0C0"/>
<rect x="855" y="619" width="1" height="67" fill="#C0C0C0"/>
<rect x="863" y="627" width="1" height="59" fill="#C0C0C0"/>
<rect x="871" y="632" width="1" height="54" fill="#C0C0C0"/>
<rect x="879" y="636" width="1" height="50" fill="#C0C0C0"/>
<rect x="887" y="642" width="1" height="44" fill="#C0C0C0"/>
<rect x="895" y="645" width="1" height="41" fill="#C0C0C0"/>
<rect x="903" y="648" width="1" height="38" fill="#C0C0C0"/>
<rect x="911" y="650" width="1" height="36" fill="#C0C0C0"/>
<rect x="919" y="652" width="1" height="34" fill="#C0C0C0"/>
<rect x="927" y="652" width="1" height="34" fill="#C0C0C0"/>
<rect x="935" y="653" width="1" height="33" fill="#C0C0C0"/>
<rect x="943" y="654" width="1" height="32" fill="#C0C0C0"/>
<rect x="951" y="655" width="1" height="31" fill="#C0C0C0"/>
<rect x="959" y="658" width="1" height="28" fill="#C0C0C0"/>
<rect x="967" y="660" width="1" height="26" fill="#C0C0C0"/>
<rect x="975" y="661" width="1" height="25" fill="#C0C0C0"/>
<rect x="983" y="662" width="1" height="24" fill="#C0C0C0"/>
<rect x="991" y="667" width="1" height="19" fill="#C0C0C0"/>
<rect x="999" y="670" width="1" height="16" fill="#C0C0C0"/>
<rect x="1007" y="673" width="1" height="13" fill="#C0C0C0"/>
<rect x="1015" y="674" width="1" height="12" fill="#C0C0C0"/>
<rect x="1023" y="673" width="1" height="13" fill="#C0C0C0"/>
<rect x="1031" y="673" width="1" height="13" fill="#C0C0C0"/>
<rect x="1039" y="671" width="1" height="15" fill="#C0C0C0"/>
<rect x="1047" y="669" width="1" height="17" fill="#C0C0C0"/>
<rect x="1055" y="665" width="1" height="21" fill="#C0C0C0"/>
<rect x="1063" y="662" width="1" height="24" fill="#C0C0C0"/>
<rect x="1071" y="659" width="1" height="27" fill="#C0C0C0"/>
<rect x="1079" y="657" width="1" height="29" fill="#C0C0C0"/>
<rect x="1087" y="655" width="1" height="31" fill="#C0C0C0"/>
<rect x="1095" y="655" width="1" height="31" fill="#C0C0C0"/>
<rect x="1103" y="654" width="1" height="32" fill="#C0C0C0"/>
<rect x="1111" y="655" width="1" height="31" fill="#C0C0C0"/>
<rect x="1119" y="656" width="1" height="30" fill="#C0C0C0"/>
<rect x="1127" y="658" width="1" height="28" fill="#C0C0C0"/>
<rect x="1135" y="660" width="1" height="26" fill="#C0C0C0"/>
<rect x="1143" y="660" width="1" height="26" fill="#C0C0C0"/>
<rect x="1151" y="662" width="1" height="24" fill="#C0C0C0"/>
<rect x="1159" y="664" width="1" height="22" fill="#C0C0C0"/>
<rect x="1167" y="666" width="1" height="20" fill="#C0C0C0"/>
<rect x="1175" y="666" width="1" height="20" fill="#C0C0C0"/>
<rect x="1183" y="667" width="1" height="19" fill="#C0C0C0"/>
<rect x="1191" y="670" width="1" height="16" fill="#C0C0C0"/>
<rect x="1199" y="675" width="1" height="11" fill="#C0C0C0"/>
<rect x="1207" y="680" width="1" height="6" fill="#C0C0C0"/>
<rect x="1215" y="683" width="1" height="3" fill="#C0C0C0"/>
<rect x="1223" y="685" width="1" height="1" fill="#C0C0C0"/>
<rect x="1231" y="685" width="1" height="3" fill="#C0C0C0"/>
<rect x="1239" y="685" width="1" height="3" fill="#C0C0C0"/>
<rect x="1247" y="685" width="1" height="6" fill="#C0C0C0"/>
<rect x="1255" y="685" width="1" height="8" fill="#C0C0C0"/>
<rect x="1263" y="685" width="1" height="8" fill="#C0C0C0"/>
<rect x="1271" y="685" width="1" height="6" fill="#C0C0C0"/>
<rect x="1279" y="685" width="1" height="5" fill="#C0C0C0"/>
<rect x="1287" y="685" width="1" height="5" fill="#C0C0C0"/>
<rect x="1295" y="685" width="1" height="8" fill="#C0C0C0"/>
<rect x="1303" y="685" width="1" height="9" fill="#C0C0C0"/>
<rect x="1311" y="685" width="1" height="8" fill="#C0C0C0"/>
<rect x="1319" y="685" width="1" height="7" fill="#C0C0C0"/>
<rect x="1327" y="685" width="1" height="6" fill="#C0C0C0"/>
<rect x="1335" y="685" width="1" height="5" fill="#C0C0C0"/>
<rect x="1343" y="685" width="1" height="4" fill="#C0C0C0"/>
<rect x="1351" y="685" width="1" height="1" fill="#C0C0C0"/>
<rect x="1359" y="684" width="1" height="2" fill="#C0C0C0"/>
<rect x="1367" y="682" width="1" height="4" fill="#C0C0C0"/>
<rect x="1375" y="680" width="1" height="6" fill="#C0C0C0"/>
<rect x="1383" y="677" width="1" height="9" fill="#C0C0C0"/>
<rect x="1391" y="673" width="1" height="13" fill="#C0C0C0"/>
<rect x="1399" y="669" width="1" height="17" fill="#C0C0C0"/>
<rect x="1407" y="666" width="1" height="20" fill="#C0C0C0"/>
<rect x="1415" y="664" width="1" height="22" fill="#C0C0C0"/>
<rect x="1423" y="664" width="1" height="22" fill="#C0C0C0"/>
<rect x="1431" y="665" width="1" height="21" fill="#C0C0C0"/>
<rect x="1439" y="666" width="1" height="20" fill="#C0C0C0"/>
<rect x="1447" y="666" width="1" height="20" fill="#C0C0C0"/>
<rect x="1455" y="666" width="1" height="20" fill="#C0C0C0"/>
<rect x="1463" y="666" width="1" height="20" fill="#C0C0C0"/>
<rect x="1471" y="667" width="1" height="19" fill="#C0C0C0"/>
<rect x="1479" y="668" width="1" height="18" fill="#C0C0C0"/>
<rect x="1487" y="670" width="1" height="16" fill="#C0C0C0"/>
<rect x="1495" y="672" width="1" height="14" fill="#C0C0C0"/>
<rect x="1503" y="673" width="1" height="13" fill="#C0C0C0"/>
<rect x="1511" y="674" width="1" height="12" fill="#C0C0C0"/>
<rect x="1519" y="674" width="1" height="12" fill="#C0C0C0"/>
<rect x="1527" y="673" width="1" height="13" fill="#C0C0C0"/>
<rect x="1535" y="673" width="1" height="13" fill="#C0C0C0"/>
<rect x="1543" y="672" width="1" height="14" fill="#C0C0C0"/>
<rect x="1551" y="674" width="1" height="12" fill="#C0C0C0"/>
<rect x="1559" y="677" width="1" height="9" fill="#C0C0C0"/>
<rect x="1567" y="678" width="1" height="8" fill="#C0C0C0"/>
<rect x="1575" y="680" width="1" height="6" fill="#C0C0C0"/>
<rect x="1583" y="681" width="1" height="5" fill="#C0C0C0"/>
<rect x="1591" y="680" width="1" height="6" fill="#C0C0C0"/>
<rect x="1599" y="677" width="1" height="9" fill="#C0C0C0"/>
<rect x="1607" y="675" width="1" height="11" fill="#C0C0C0"/>
<rect x="1615" y="673" width="1" height="13" fill="#C0C0C0"/>
<rect x="1623" y="672" width="1" height="14" fill="#C0C0C0"/>
<rect x="1631" y="670" width="1" height="16" fill="#C0C0C0"/>
<rect x="1639" y="670" width="1" height="16" fill="#C0C0C0"/>
<rect x="1647" y="670" width="1" height="16" fill="#C0C0C0"/>
<rect x="1655" y="671" width="1" height="15" fill="#C0C0C0"/>
<polyline points="0.0,671.0 6.7,674.0 18.0,678.0 30.0,680.8 41.7,682.8 55.0,683.7 100.0,683.7 108.0,685.0 120.0,687.5 131.7,688.8 143.0,691.7 156.7,694.0 166.7,696.7 183.0,697.5 200.0,698.3 216.7,699.5 233.0,700.5 246.7,701.3 260.0,700.3 273.0,699.0 281.7,696.7 288.3,695.0 293.0,693.3 305.0,691.7 318.0,689.5 330.0,688.3 343.0,689.2 350.0,690.3 361.7,691.3 368.0,693.7 380.0,696.7 393.0,698.7 408.0,701.3 416.7,703.3 430.0,704.5 438.0,708.3 446.7,710.8 455.0,713.3 463.0,717.8 473.0,721.7 480.0,725.5 488.0,729.0 496.7,731.7 505.0,733.7 513.0,735.5 535.0,736.0 553.0,735.0 563.0,733.5 588.0,728.5 600.0,724.3 611.7,719.3 623.0,713.5 636.7,706.0 648.0,698.5 660.0,691.5 671.7,683.5 683.0,676.8 695.0,669.0 706.7,661.8 718.0,654.3 731.7,646.8 743.0,639.8 756.7,631.8 768.0,629.3 773.0,627.3 785.0,626.3 791.7,625.5 801.7,625.5 805.0,626.5 816.7,627.3 831.7,627.3 840.0,626.0 846.7,624.3 856.7,623.5 863.0,622.3 873.0,622.3 880.0,623.5 890.0,624.3 900.0,628.5 911.7,634.3 923.0,640.5 930.0,643.5 940.0,646.0 948.0,648.5 960.0,651.0 973.0,654.3 985.0,655.5 996.7,658.5 1006.7,661.3 1016.7,664.7 1031.7,667.3 1040.0,669.3 1055.0,670.2 1065.0,669.0 1076.7,667.3 1086.7,664.3 1098.0,661.3 1110.0,658.5 1126.7,656.3 1153.0,656.3 1165.0,658.5 1176.7,660.2 1190.0,662.7 1195.0,664.3 1206.7,667.3 1220.0,670.2 1230.0,674.7 1241.7,678.5 1253.0,682.7 1265.0,686.8 1273.0,688.5 1286.7,690.5 1303.0,692.7 1345.0,692.3 1361.7,690.5 1373.0,687.7 1386.7,684.7 1396.7,681.0 1410.0,677.3 1421.7,672.7 1433.0,669.3 1446.7,667.3 1458.0,666.0 1463.0,665.2 1483.0,665.2 1493.0,667.3 1508.0,667.3 1523.0,669.3 1533.0,671.0 1546.7,671.5 1553.0,672.3 1566.7,673.0 1573.0,674.3 1591.7,675.2 1598.0,676.5 1625.0,676.5 1633.0,674.8 1650.0,673.2 1655.0,672.3" fill="none" stroke="#FF0000" stroke-width="1" stroke-dasharray="3 3"/>
<rect x="1675" y="607" width="1" height="1" fill="#000"/>
<rect x="1675" y="685" width="2" height="1" fill="#000"/>
</g>
<text x="2.90" y="618" font-size="10.2" fill="#000" stroke="#000" stroke-width="0.25" textLength="66.20" lengthAdjust="spacingAndGlyphs">MACD(12,26,9)</text>
<text x="72.10" y="618" font-size="10.2" fill="#000" stroke="#000" stroke-width="0.25" textLength="32.80" lengthAdjust="spacingAndGlyphs">11.4193</text>
<text x="107.60" y="618" font-size="10.2" fill="#000" stroke="#000" stroke-width="0.25" textLength="28.60" lengthAdjust="spacingAndGlyphs">9.6562</text>
<text x="1677.90" y="616" font-size="10.2" fill="#000" stroke="#000" stroke-width="0.25" textLength="33.90" lengthAdjust="spacingAndGlyphs">59.8566</text>
<text x="1677.90" y="689" font-size="10.2" fill="#000" stroke="#000" stroke-width="0.25" textLength="18.90" lengthAdjust="spacingAndGlyphs">0.00</text>
<text x="1677.90" y="742" font-size="10.2" fill="#000" stroke="#000" stroke-width="0.25" textLength="37.00" lengthAdjust="spacingAndGlyphs">-45.6249</text>
<g id="rsi" shape-rendering="crispEdges">
<line x1="0" y1="784.5" x2="1674" y2="784.5" stroke="#C0C0C0" stroke-width="1" stroke-dasharray="3 3"/>
<line x1="0" y1="830.5" x2="1674" y2="830.5" stroke="#C0C0C0" stroke-width="1" stroke-dasharray="3 3"/>
<rect x="1675" y="784" width="2" height="1" fill="#000"/>
<rect x="1675" y="830" width="2" height="1" fill="#000"/>
</g>
<polyline points="-0.5,807.5 7.5,804.2 15.5,807.2 23.5,807.2 31.5,804.2 39.5,799.5 47.5,808.8 55.5,813.3 63.5,807.5 71.5,804.2 79.5,802.5 87.5,802.5 95.5,813.3 103.5,825.3 111.5,818.3 119.5,818.3 127.5,816.3 135.5,815.3 143.5,816.3 151.5,819.5 159.5,814.2 167.5,809.5 175.5,814.2 183.5,818.3 191.5,817.5 199.5,819.2 207.5,823.3 215.5,826.7 223.5,817.5 231.5,814.2 239.5,816.7 247.5,805.0 255.5,803.7 263.5,803.7 271.5,802.0 279.5,800.5 287.5,809.4 295.5,802.2 303.5,805.5 311.5,810.2 319.5,813.5 327.5,819.3 335.5,818.5 343.5,828.5 351.5,823.5 359.5,824.3 367.5,822.3 375.5,817.3 383.5,815.2 391.5,819.3 399.5,824.3 407.5,829.3 415.5,829.3 423.5,832.7 431.5,837.7 439.5,843.5 447.5,846.5 455.5,836.8 463.5,831.3 471.5,831.3 479.5,837.7 487.5,827.3 495.5,821.3 503.5,826.3 511.5,826.3 519.5,831.3 527.5,820.2 535.5,825.2 543.5,820.2 551.5,818.2 559.5,822.0 567.5,817.3 575.5,814.3 583.5,806.3 591.5,808.5 599.5,810.5 607.5,806.3 615.5,804.3 623.5,804.3 631.5,798.5 639.5,790.5 647.5,795.2 655.5,791.3 663.5,787.3 671.5,804.3 679.5,798.5 687.5,787.3 695.5,788.5 703.5,793.5 711.5,789.3 719.5,788.2 727.5,785.2 735.5,783.2 743.5,783.2 751.5,788.5 759.5,792.3 767.5,791.3 775.5,794.3 783.5,792.3 791.5,790.5 799.5,789.3 807.5,784.3 815.5,781.3 823.5,784.0 831.5,775.2 839.5,783.2 847.5,785.2 855.5,797.3 863.5,803.2 871.5,799.3 879.5,799.3 887.5,804.3 895.5,800.5 903.5,801.3 911.5,799.3 919.5,800.5 927.5,795.5 935.5,798.5 943.5,798.5 951.5,796.3 959.5,803.5 967.5,803.5 975.5,799.3 983.5,799.3 991.5,810.5 999.5,807.3 1007.5,808.5 1015.5,804.3 1023.5,800.5 1031.5,802.3 1039.5,797.7 1047.5,796.3 1055.5,790.5 1063.5,790.5 1071.5,789.3 1079.5,788.2 1087.5,788.2 1095.5,792.3 1103.5,789.3 1111.5,794.3 1119.5,795.5 1127.5,797.3 1135.5,796.3 1143.5,793.2 1151.5,797.3 1159.5,800.5 1167.5,803.5 1175.5,796.3 1183.5,798.5 1191.5,805.5 1199.5,817.3 1207.5,818.5 1215.5,816.3 1223.5,817.3 1231.5,817.3 1239.5,809.3 1247.5,819.3 1255.5,815.5 1263.5,813.5 1271.5,805.5 1279.5,810.2 1287.5,810.5 1295.5,818.5 1303.5,813.2 1311.5,809.3 1319.5,808.5 1327.5,807.3 1335.5,807.3 1343.5,805.5 1351.5,799.3 1359.5,795.5 1367.5,797.3 1375.5,796.3 1383.5,791.8 1391.5,786.3 1399.5,784.3 1407.5,783.2 1415.5,785.2 1423.5,792.3 1431.5,797.3 1439.5,795.5 1447.5,793.5 1455.5,793.5 1463.5,791.3 1471.5,796.0 1479.5,798.5 1487.5,803.5 1495.5,802.3 1503.5,802.3 1511.5,798.5 1519.5,794.3 1527.5,791.3 1535.5,794.3 1543.5,792.3 1551.5,804.3 1559.5,811.0 1567.5,806.3 1575.5,813.5 1583.5,806.3 1591.5,797.3 1599.5,792.3 1607.5,793.5 1615.5,789.3 1623.5,789.3 1631.5,787.3 1639.5,797.3 1647.5,795.5 1655.5,798.5" fill="none" stroke="#1E90FF" stroke-width="1" shape-rendering="crispEdges"/>
<text x="2.90" y="760" font-size="10.2" fill="#000" stroke="#000" stroke-width="0.25" textLength="32.50" lengthAdjust="spacingAndGlyphs">RSI(14)</text>
<text x="37.50" y="760" font-size="10.2" fill="#000" stroke="#000" stroke-width="0.25" textLength="33.50" lengthAdjust="spacingAndGlyphs">57.9963</text>
<text x="1677.90" y="758" font-size="10.2" fill="#000" stroke="#000" stroke-width="0.25" textLength="15.40" lengthAdjust="spacingAndGlyphs">100</text>
<text x="1677.90" y="788" font-size="10.2" fill="#000" stroke="#000" stroke-width="0.25" textLength="9.30" lengthAdjust="spacingAndGlyphs">70</text>
<text x="1677.90" y="834" font-size="10.2" fill="#000" stroke="#000" stroke-width="0.25" textLength="9.30" lengthAdjust="spacingAndGlyphs">30</text>
<text x="1677.90" y="863" font-size="10.2" fill="#000" stroke="#000" stroke-width="0.25" textLength="5.30" lengthAdjust="spacingAndGlyphs">0</text>
<g id="taxis">
<text x="-2.00" y="879" font-size="10.2" fill="#000" stroke="#000" stroke-width="0.25" textLength="50.54" lengthAdjust="spacingAndGlyphs">15 Oct 2020</text>
<rect x="63" y="867" width="1" height="3" fill="#000" shape-rendering="crispEdges"/>
<text x="62.00" y="879" font-size="10.2" fill="#000" stroke="#000" stroke-width="0.25" textLength="53.85" lengthAdjust="spacingAndGlyphs">18 Oct 23:00</text>
<rect x="127" y="867" width="1" height="3" fill="#000" shape-rendering="crispEdges"/>
<text x="126.00" y="879" font-size="10.2" fill="#000" stroke="#000" stroke-width="0.25" textLength="53.85" lengthAdjust="spacingAndGlyphs">20 Oct 04:00</text>
<rect x="191" y="867" width="1" height="3" fill="#000" shape-rendering="crispEdges"/>
<text x="190.00" y="879" font-size="10.2" fill="#000" stroke="#000" stroke-width="0.25" textLength="53.85" lengthAdjust="spacingAndGlyphs">21 Oct 12:00</text>
<rect x="255" y="867" width="1" height="3" fill="#000" shape-rendering="crispEdges"/>
<text x="254.00" y="879" font-size="10.2" fill="#000" stroke="#000" stroke-width="0.25" textLength="53.85" lengthAdjust="spacingAndGlyphs">22 Oct 20:00</text>
<rect x="319" y="867" width="1" height="3" fill="#000" shape-rendering="crispEdges"/>
<text x="318.00" y="879" font-size="10.2" fill="#000" stroke="#000" stroke-width="0.25" textLength="53.85" lengthAdjust="spacingAndGlyphs">26 Oct 00:00</text>
<rect x="383" y="867" width="1" height="3" fill="#000" shape-rendering="crispEdges"/>
<text x="382.00" y="879" font-size="10.2" fill="#000" stroke="#000" stroke-width="0.25" textLength="53.85" lengthAdjust="spacingAndGlyphs">27 Oct 08:00</text>
<rect x="447" y="867" width="1" height="3" fill="#000" shape-rendering="crispEdges"/>
<text x="446.00" y="879" font-size="10.2" fill="#000" stroke="#000" stroke-width="0.25" textLength="53.85" lengthAdjust="spacingAndGlyphs">28 Oct 16:00</text>
<rect x="511" y="867" width="1" height="3" fill="#000" shape-rendering="crispEdges"/>
<text x="510.00" y="879" font-size="10.2" fill="#000" stroke="#000" stroke-width="0.25" textLength="53.85" lengthAdjust="spacingAndGlyphs">30 Oct 00:00</text>
<rect x="575" y="867" width="1" height="3" fill="#000" shape-rendering="crispEdges"/>
<text x="574.00" y="879" font-size="10.2" fill="#000" stroke="#000" stroke-width="0.25" textLength="50.66" lengthAdjust="spacingAndGlyphs">2 Nov 04:00</text>
<rect x="639" y="867" width="1" height="3" fill="#000" shape-rendering="crispEdges"/>
<text x="638.00" y="879" font-size="10.2" fill="#000" stroke="#000" stroke-width="0.25" textLength="50.66" lengthAdjust="spacingAndGlyphs">3 Nov 12:00</text>
<rect x="703" y="867" width="1" height="3" fill="#000" shape-rendering="crispEdges"/>
<text x="702.00" y="879" font-size="10.2" fill="#000" stroke="#000" stroke-width="0.25" textLength="50.66" lengthAdjust="spacingAndGlyphs">4 Nov 20:00</text>
<rect x="767" y="867" width="1" height="3" fill="#000" shape-rendering="crispEdges"/>
<text x="766.00" y="879" font-size="10.2" fill="#000" stroke="#000" stroke-width="0.25" textLength="50.66" lengthAdjust="spacingAndGlyphs">6 Nov 04:00</text>
<rect x="831" y="867" width="1" height="3" fill="#000" shape-rendering="crispEdges"/>
<text x="830.00" y="879" font-size="10.2" fill="#000" stroke="#000" stroke-width="0.25" textLength="50.66" lengthAdjust="spacingAndGlyphs">9 Nov 08:00</text>
<rect x="895" y="867" width="1" height="3" fill="#000" shape-rendering="crispEdges"/>
<text x="894.00" y="879" font-size="10.2" fill="#000" stroke="#000" stroke-width="0.25" textLength="55.76" lengthAdjust="spacingAndGlyphs">10 Nov 16:00</text>
<rect x="959" y="867" width="1" height="3" fill="#000" shape-rendering="crispEdges"/>
<text x="958.00" y="879" font-size="10.2" fill="#000" stroke="#000" stroke-width="0.25" textLength="55.76" lengthAdjust="spacingAndGlyphs">12 Nov 00:00</text>
<rect x="1023" y="867" width="1" height="3" fill="#000" shape-rendering="crispEdges"/>
<text x="1022.00" y="879" font-size="10.2" fill="#000" stroke="#000" stroke-width="0.25" textLength="55.76" lengthAdjust="spacingAndGlyphs">13 Nov 08:00</text>
<rect x="1087" y="867" width="1" height="3" fill="#000" shape-rendering="crispEdges"/>
<text x="1086.00" y="879" font-size="10.2" fill="#000" stroke="#000" stroke-width="0.25" textLength="55.76" lengthAdjust="spacingAndGlyphs">16 Nov 12:00</text>
<rect x="1151" y="867" width="1" height="3" fill="#000" shape-rendering="crispEdges"/>
<text x="1150.00" y="879" font-size="10.2" fill="#000" stroke="#000" stroke-width="0.25" textLength="55.76" lengthAdjust="spacingAndGlyphs">17 Nov 20:00</text>
<rect x="1215" y="867" width="1" height="3" fill="#000" shape-rendering="crispEdges"/>
<text x="1214.00" y="879" font-size="10.2" fill="#000" stroke="#000" stroke-width="0.25" textLength="55.76" lengthAdjust="spacingAndGlyphs">19 Nov 04:00</text>
<rect x="1279" y="867" width="1" height="3" fill="#000" shape-rendering="crispEdges"/>
<text x="1278.00" y="879" font-size="10.2" fill="#000" stroke="#000" stroke-width="0.25" textLength="55.76" lengthAdjust="spacingAndGlyphs">20 Nov 12:00</text>
<rect x="1343" y="867" width="1" height="3" fill="#000" shape-rendering="crispEdges"/>
<text x="1342.00" y="879" font-size="10.2" fill="#000" stroke="#000" stroke-width="0.25" textLength="55.76" lengthAdjust="spacingAndGlyphs">23 Nov 16:00</text>
<rect x="1407" y="867" width="1" height="3" fill="#000" shape-rendering="crispEdges"/>
<text x="1406.00" y="879" font-size="10.2" fill="#000" stroke="#000" stroke-width="0.25" textLength="55.76" lengthAdjust="spacingAndGlyphs">25 Nov 00:00</text>
<rect x="1471" y="867" width="1" height="3" fill="#000" shape-rendering="crispEdges"/>
<text x="1470.00" y="879" font-size="10.2" fill="#000" stroke="#000" stroke-width="0.25" textLength="55.76" lengthAdjust="spacingAndGlyphs">26 Nov 08:00</text>
<rect x="1535" y="867" width="1" height="3" fill="#000" shape-rendering="crispEdges"/>
<text x="1534.00" y="879" font-size="10.2" fill="#000" stroke="#000" stroke-width="0.25" textLength="55.76" lengthAdjust="spacingAndGlyphs">27 Nov 16:00</text>
<rect x="1599" y="867" width="1" height="3" fill="#000" shape-rendering="crispEdges"/>
<text x="1598.00" y="879" font-size="10.2" fill="#000" stroke="#000" stroke-width="0.25" textLength="50.26" lengthAdjust="spacingAndGlyphs">1 Dec 00:00</text>
</g>
</svg>
</body></html>
